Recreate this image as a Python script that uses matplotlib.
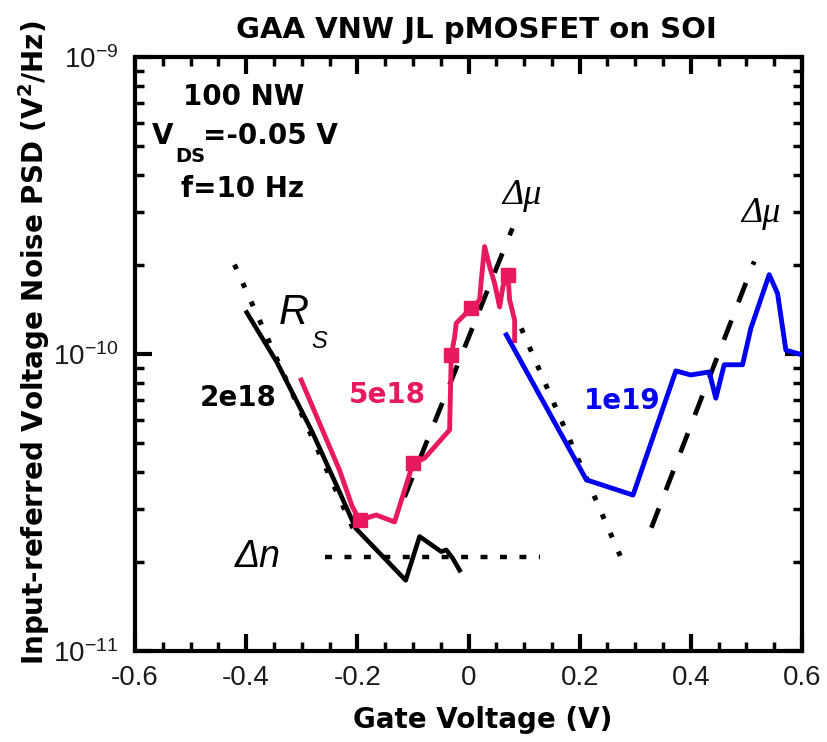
import matplotlib
matplotlib.use("Agg")
import matplotlib.pyplot as plt
from matplotlib.ticker import LogLocator, MultipleLocator, FixedLocator, FixedFormatter, NullFormatter

plt.rcParams["font.family"] = "Liberation Sans"
plt.rcParams["xtick.labelsize"] = 20
plt.rcParams["ytick.labelsize"] = 20
plt.rcParams["lines.scale_dashes"] = False
plt.rcParams["mathtext.fontset"] = "custom"
plt.rcParams["mathtext.rm"] = "Liberation Sans"
plt.rcParams["mathtext.bf"] = "DejaVu Sans:bold"

# Noise data, gate voltage (V) vs input-referred PSD (V^2/Hz)
vg_2e18 = [-0.399, -0.345, -0.281, -0.232, -0.203, -0.113, -0.088, -0.049, -0.040, -0.029, -0.016]
psd_2e18 = [1.38e-10, 9.4e-11, 5.46e-11, 3.43e-11, 2.59e-11, 1.73e-11, 2.43e-11, 2.16e-11, 2.19e-11, 2.06e-11, 1.87e-11]

vg_5e18 = [-0.301, -0.232, -0.209, -0.196, -0.166, -0.133, -0.100, -0.079, -0.034, -0.031, -0.025, -0.022,
           0.005, 0.020, 0.023, 0.029, 0.038, 0.047, 0.056, 0.062, 0.071, 0.074, 0.083, 0.083]
psd_5e18 = [8.17e-11, 4.06e-11, 3.06e-11, 2.76e-11, 2.87e-11, 2.72e-11, 4.28e-11, 4.46e-11, 5.55e-11, 9.9e-11,
            1.14e-10, 1.27e-10, 1.43e-10, 1.52e-10, 1.77e-10, 2.3e-10, 1.97e-10, 1.73e-10, 1.44e-10, 1.69e-10,
            1.85e-10, 1.52e-10, 1.3e-10, 1.11e-10]
marks_5e18 = [3, 6, 9, 12, 20]

vg_1e19 = [0.068, 0.212, 0.296, 0.373, 0.400, 0.433, 0.445, 0.460, 0.493, 0.508, 0.541, 0.556, 0.571, 0.595]
psd_1e19 = [1.16e-10, 3.77e-11, 3.35e-11, 8.77e-11, 8.5e-11, 8.7e-11, 7.1e-11, 9.2e-11, 9.2e-11, 1.22e-10,
            1.85e-10, 1.6e-10, 1.03e-10, 1.0e-10]

# model guide lines
rs_left_x = [-0.421, -0.200]
rs_left_y = [2.0e-10, 2.4e-11]
rs_mid_x = [0.095, 0.273]
rs_mid_y = [1.22e-10, 2.09e-11]
dn_x = [-0.259, 0.128]
dn_y = [2.08e-11, 2.08e-11]
mu_left_x = [-0.115, 0.079]
mu_left_y = [3.3e-11, 2.65e-10]
mu_right_x = [0.329, 0.514]
mu_right_y = [2.6e-11, 2.05e-10]

xticks = [-0.6, -0.4, -0.2, 0, 0.2, 0.4, 0.6]
xtick_labels = ["-0.6", "-0.4", "-0.2", "0", "0.2", "0.4", "0.6"]
yticks = [1e-11, 1e-10, 1e-9]
ytick_labels = [r"$\mathregular{10^{-11}}$", r"$\mathregular{10^{-10}}$", r"$\mathregular{10^{-9}}$"]

PINK = "#e8195e"
BLUE = "#0000f0"

W, H = 828, 742
fig = plt.figure(figsize=(W / 100, H / 100), dpi=100)
ax = fig.add_axes([135 / W, 1 - 651 / H, (802 - 135) / W, (651 - 57) / H])


def ftext(px, py, s, **kw):
    fig.text(px / W, 1 - py / H, s, **kw)


dots = (0, (3.6, 11.0))
dash_short = (0, (5.0, 9.0))
dash_long = (0, (15.0, 14.0))

ax.plot(rs_left_x, rs_left_y, color="black", lw=3.6, linestyle=dots, zorder=2)
ax.plot(rs_mid_x, rs_mid_y, color="black", lw=3.6, linestyle=dots, zorder=2)
ax.plot(dn_x, dn_y, color="black", lw=3.2, linestyle=dash_short, zorder=2)
ax.plot(mu_left_x, mu_left_y, color="black", lw=3.4, linestyle=dash_long, zorder=2)
ax.plot(mu_right_x, mu_right_y, color="black", lw=3.4, linestyle=dash_long, zorder=2)

ax.plot(vg_2e18, psd_2e18, color="black", lw=3.3, zorder=3)
ax.plot(vg_5e18, psd_5e18, color=PINK, lw=3.5, marker="s", markersize=10,
        markevery=marks_5e18, zorder=4)
ax.plot(vg_1e19, psd_1e19, color=BLUE, lw=3.5, zorder=4)

ax.set_xlim(-0.6, 0.6)
ax.set_yscale("log")
ax.set_ylim(1e-11, 1e-9)

ax.xaxis.set_major_locator(FixedLocator(xticks))
ax.xaxis.set_major_formatter(FixedFormatter(xtick_labels))
ax.xaxis.set_minor_locator(MultipleLocator(0.05))
ax.yaxis.set_major_locator(FixedLocator(yticks))
ax.yaxis.set_major_formatter(FixedFormatter(ytick_labels))
ax.yaxis.set_minor_locator(LogLocator(base=10, subs=range(2, 10)))
ax.yaxis.set_minor_formatter(NullFormatter())

ax.tick_params(which="both", direction="in", top=True, right=True, color="black",
               labelcolor="#1a1a1a")
ax.tick_params(which="major", length=12, width=3)
ax.tick_params(which="minor", length=6.5, width=2.5)
ax.tick_params(axis="x", which="major", pad=10)
ax.tick_params(axis="y", which="major", pad=12)
for sp in ax.spines.values():
    sp.set_linewidth(3)

bold = dict(fontsize=20, fontweight="bold", family="DejaVu Sans")
ftext(476, 30, "GAA VNW JL pMOSFET on SOI", ha="center", va="center",
      fontsize=21, fontweight="bold", family="DejaVu Sans")
ftext(483, 720, "Gate Voltage (V)", ha="center", va="center", **bold)
ftext(34, 343, r"Input-referred Voltage Noise PSD (V$^\mathbf{2}$/Hz)", ha="center", va="center",
      rotation=90, **bold)

ftext(244, 97, "100 NW", ha="center", va="center", **bold)
ftext(152, 136, "V", ha="left", va="center", **bold)
ftext(175, 157, "DS", ha="left", va="center", fontsize=14, fontweight="bold", family="DejaVu Sans")
ftext(203, 136, "=-0.05 V", ha="left", va="center", **bold)
ftext(243, 189, "f=10 Hz", ha="center", va="center", **bold)

ftext(238, 398, "2e18", ha="center", va="center", color="black", **bold)
ftext(387, 395, "5e18", ha="center", va="center", color=PINK, **bold)
ftext(622, 401, "1e19", ha="center", va="center", color=BLUE, **bold)

ital = dict(style="italic", family="Liberation Sans")
ftext(294, 313, "R", ha="center", va="center", fontsize=30, **ital)
ftext(319, 341, "S", ha="center", va="center", fontsize=17, **ital)
ftext(258, 557, "Δn", ha="center", va="center", fontsize=27, **ital)
ftext(522, 195, "Δμ", ha="center", va="center", fontsize=26, style="italic", family="Liberation Serif")
ftext(761, 213, "Δμ", ha="center", va="center", fontsize=26, style="italic", family="Liberation Serif")

fig.savefig("out.png", dpi=100)
